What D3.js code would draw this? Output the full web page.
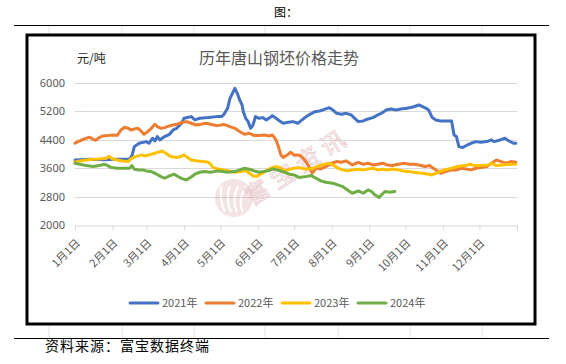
<!DOCTYPE html>
<html>
<head>
<meta charset="utf-8">
<script src="https://cdn.jsdelivr.net/npm/d3@7/dist/d3.min.js"></script>
<style>
  body { margin: 0; background: #fff; }
  svg { display: block; font-family: "Noto Sans CJK SC", "Noto Sans", sans-serif; }
</style>
</head>
<body>
<script>
// chart data (month-day, 元/吨)
const monthLabels = ["1月1日","2月1日","3月1日","4月1日","5月1日","6月1日","7月1日","8月1日","9月1日","10月1日","11月1日","12月1日"];
const yTicks = [2000, 2800, 3600, 4400, 5200, 6000];
const seriesNames = ["2021年","2022年","2023年","2024年"];
const seriesColors = ["#4472C4","#ED7D31","#FFC000","#70AD47"];

const s2021 = [["01-01",3833],["01-13",3850],["01-24",3840],["02-04",3850],["02-15",3860],["02-17",3950],["02-19",4208],["02-23",4302],["03-01",4349],["03-03",4302],["03-06",4443],["03-08",4368],["03-10",4490],["03-12",4396],["03-16",4490],["03-20",4555],["03-23",4677],["03-26",4724],["03-30",4865],["04-01",5006],["04-07",5053],["04-10",4959],["04-14",5006],["04-21",5025],["04-28",5053],["05-02",5053],["05-04",5118],["05-07",5287],["05-09",5568],["05-11",5709],["05-13",5850],["05-15",5709],["05-17",5522],["05-19",5381],["05-20",5193],["05-22",5006],["05-24",4912],["05-26",4724],["05-28",4818],["05-30",5053],["06-02",5006],["06-05",5025],["06-08",4959],["06-11",5025],["06-13",5081],["06-16",5006],["06-19",4930],["06-22",4865],["06-26",4893],["06-30",4912],["07-04",4865],["07-09",5006],["07-14",5118],["07-18",5193],["07-22",5212],["07-26",5259],["07-30",5306],["08-02",5240],["08-05",5146],["08-09",5118],["08-13",5146],["08-17",5100],["08-20",5006],["08-23",4912],["08-27",4930],["08-31",4987],["09-04",5025],["09-08",5100],["09-11",5146],["09-15",5240],["09-19",5268],["09-23",5240],["09-27",5268],["10-02",5287],["10-07",5325],["10-12",5381],["10-15",5334],["10-18",5287],["10-20",5240],["10-23",5025],["10-26",4959],["10-30",4930],["11-08",4930],["11-10",4537],["11-12",4490],["11-14",4208],["11-17",4180],["11-21",4255],["11-24",4302],["11-28",4349],["12-02",4330],["12-07",4349],["12-11",4396],["12-13",4349],["12-18",4396],["12-22",4443],["12-24",4396],["12-29",4302],["12-31",4302]];

const s2022 = [["01-01",4302],["01-03",4340],["01-06",4387],["01-10",4440],["01-13",4471],["01-16",4415],["01-18",4387],["01-21",4462],["01-24",4509],["01-28",4518],["02-01",4537],["02-05",4527],["02-08",4677],["02-11",4752],["02-14",4724],["02-16",4677],["02-19",4705],["02-22",4724],["02-25",4630],["02-27",4555],["03-02",4630],["03-05",4724],["03-08",4837],["03-10",4771],["03-13",4724],["03-16",4743],["03-20",4790],["03-23",4818],["03-26",4837],["03-30",4884],["04-03",4912],["04-07",4865],["04-11",4818],["04-15",4837],["04-19",4865],["04-23",4837],["04-28",4799],["05-02",4818],["05-04",4837],["05-09",4771],["05-13",4724],["05-17",4630],["05-21",4555],["05-25",4584],["05-29",4518],["06-02",4518],["06-06",4537],["06-11",4509],["06-13",4537],["06-16",4396],["06-18",4208],["06-20",3974],["06-22",3899],["06-26",3993],["06-28",4049],["07-01",3974],["07-05",3974],["07-08",3899],["07-11",3767],["07-13",3646],["07-16",3458],["07-19",3599],["07-23",3580],["07-27",3646],["08-01",3739],["08-05",3786],["08-09",3767],["08-13",3805],["08-16",3739],["08-18",3692],["08-23",3767],["08-27",3711],["08-31",3739],["09-04",3692],["09-08",3711],["09-12",3739],["09-16",3692],["09-20",3674],["09-25",3711],["09-30",3739],["10-04",3711],["10-08",3711],["10-12",3692],["10-17",3646],["10-21",3674],["10-23",3618],["10-28",3505],["10-30",3458],["11-03",3505],["11-08",3552],["11-12",3552],["11-16",3599],["11-20",3580],["11-24",3552],["11-28",3599],["12-02",3618],["12-07",3646],["12-11",3739],["12-15",3833],["12-19",3786],["12-23",3739],["12-27",3786],["12-31",3767]];

const s2023 = [["01-01",3767],["01-05",3805],["01-10",3833],["01-16",3852],["01-21",3861],["01-27",3880],["01-29",3936],["02-01",3861],["02-05",3833],["02-09",3805],["02-14",3786],["02-16",3861],["02-20",3927],["02-25",3974],["02-27",3946],["03-03",3974],["03-08",4021],["03-12",4068],["03-14",4087],["03-17",4021],["03-21",3927],["03-26",3899],["03-30",3936],["04-01",3974],["04-04",3899],["04-07",3833],["04-12",3805],["04-17",3786],["04-21",3767],["04-23",3711],["04-25",3617],["04-29",3580],["05-04",3552],["05-10",3505],["05-14",3486],["05-18",3505],["05-22",3533],["05-25",3458],["05-28",3383],["05-31",3364],["06-02",3411],["06-06",3486],["06-09",3552],["06-12",3599],["06-16",3646],["06-20",3599],["06-23",3524],["06-27",3571],["07-01",3599],["07-05",3618],["07-09",3580],["07-14",3580],["07-18",3618],["07-22",3674],["07-26",3711],["07-30",3739],["08-03",3674],["08-06",3599],["08-10",3552],["08-14",3524],["08-18",3552],["08-23",3571],["08-27",3552],["08-31",3580],["09-04",3599],["09-08",3552],["09-12",3571],["09-16",3552],["09-20",3580],["09-25",3552],["09-29",3524],["10-03",3505],["10-08",3486],["10-12",3467],["10-15",3458],["10-19",3439],["10-23",3411],["10-28",3486],["11-02",3552],["11-08",3599],["11-13",3646],["11-19",3674],["11-23",3711],["11-27",3674],["12-02",3674],["12-08",3692],["12-11",3739],["12-15",3674],["12-20",3692],["12-26",3711],["12-31",3711]];

const s2024 = [["01-01",3739],["01-05",3711],["01-10",3674],["01-16",3646],["01-21",3674],["01-25",3711],["01-28",3674],["01-31",3618],["02-05",3599],["02-11",3599],["02-15",3599],["02-17",3674],["02-19",3571],["02-23",3552],["02-26",3552],["03-01",3524],["03-05",3505],["03-09",3439],["03-13",3364],["03-16",3317],["03-20",3383],["03-24",3430],["03-27",3364],["03-31",3298],["04-03",3270],["04-06",3330],["04-10",3430],["04-14",3486],["04-18",3505],["04-23",3486],["04-29",3524],["05-03",3505],["05-07",3486],["05-13",3505],["05-17",3552],["05-21",3599],["05-25",3571],["05-29",3524],["06-02",3486],["06-06",3505],["06-11",3543],["06-13",3580],["06-17",3552],["06-23",3486],["06-27",3430],["07-01",3411],["07-05",3340],["07-11",3364],["07-15",3392],["07-19",3317],["07-23",3242],["07-27",3205],["08-02",3177],["08-06",3130],["08-10",3083],["08-14",2989],["08-18",2895],["08-23",2961],["08-27",2895],["08-31",2989],["09-03",2942],["09-05",2867],["09-09",2773],["09-11",2848],["09-14",2942],["09-18",2923],["09-22",2942]];

const allSeries = [s2021, s2022, s2023, s2024];

const W = 566, H = 364;
const parse = d3.timeParse("%Y-%m-%d");
const toDate = md => parse("2021-" + md);

const svg = d3.select("body").append("svg")
    .attr("width", W)
    .attr("height", H);

// faint spreadsheet cell lines outside the chart box
const cellX = [49, 122, 194, 265, 338, 410, 482];
cellX.forEach(x => {
  svg.append("line").attr("x1", x).attr("x2", x).attr("y1", 26).attr("y2", 35)
     .attr("stroke", "#e3e3e3");
  svg.append("line").attr("x1", x).attr("x2", x).attr("y1", 324).attr("y2", 337)
     .attr("stroke", "#e3e3e3");
});

// page header / footer
svg.append("text").attr("x", 274).attr("y", 17)
   .attr("font-size", 12).attr("fill", "#000").text("图：");
svg.append("line").attr("x1", 14).attr("x2", 549).attr("y1", 25.5).attr("y2", 25.5)
   .attr("stroke", "#000").attr("stroke-width", 1.2);
svg.append("line").attr("x1", 14).attr("x2", 549).attr("y1", 338.5).attr("y2", 338.5)
   .attr("stroke", "#000").attr("stroke-width", 1.2);
svg.append("text").attr("x", 45).attr("y", 351)
   .attr("font-size", 14).attr("letter-spacing", 1).attr("fill", "#000")
   .text("资料来源：富宝数据终端");

// chart frame
svg.append("rect").attr("x", 27).attr("y", 35).attr("width", 508).attr("height", 289)
   .attr("fill", "#fff").attr("stroke", "#000").attr("stroke-width", 3);

// scales
const x = d3.scaleTime()
    .domain([toDate("01-01"), parse("2022-01-01")])
    .range([75, 517]);
const y = d3.scaleLinear()
    .domain([2000, 6000])
    .range([225, 83]);

// gridlines
svg.append("g").selectAll("line").data(yTicks.slice(1)).join("line")
   .attr("x1", 75).attr("x2", 517)
   .attr("y1", d => Math.round(y(d)) + 0.5).attr("y2", d => Math.round(y(d)) + 0.5)
   .attr("stroke", "#d9d9d9");

// y axis labels
const yAxis = d3.axisLeft(y).tickValues(yTicks).tickFormat(d3.format("d"))
    .tickSize(0).tickPadding(10);
const gy = svg.append("g").attr("transform", "translate(75,0)").call(yAxis);
gy.select(".domain").remove();
gy.selectAll("text").attr("font-size", 11).attr("fill", "#595959")
  .attr("font-family", "'Noto Sans', sans-serif");

// x axis
const monthTicks = d3.timeMonth.range(toDate("01-01"), parse("2022-01-02"));
const xAxis = d3.axisBottom(x).tickValues(monthTicks).tickSize(5).tickFormat("");
const gx = svg.append("g").attr("transform", "translate(0,225.5)").call(xAxis);
gx.select(".domain").attr("stroke", "#d9d9d9");
gx.selectAll(".tick line").attr("stroke", "#d9d9d9");

svg.append("g").selectAll("text").data(monthLabels).join("text")
   .attr("transform", (d, i) => `translate(${x(monthTicks[i]) + 3},241) rotate(-45)`)
   .attr("text-anchor", "end")
   .attr("dy", "0.35em")
   .attr("font-size", 11)
   .attr("fill", "#595959")
   .text(d => d);

// watermark
const wm = svg.append("g").attr("opacity", 0.13);
wm.append("circle").attr("cx", 234).attr("cy", 198).attr("r", 19).attr("fill", "#b03040");
[-9, -3, 3, 9].forEach(o => {
  wm.append("path")
    .attr("d", `M${234 + o},${212} q${-6},-12 ${o * 0.4},-26`)
    .attr("stroke", "#fff").attr("stroke-width", 2.2).attr("fill", "none");
});
svg.append("text")
   .attr("transform", "translate(252,206) rotate(-33)")
   .attr("font-size", 24).attr("letter-spacing", 6)
   .attr("fill", "none").attr("stroke", "#e6c4c8").attr("stroke-width", 0.7)
   .text("富宝资讯");

// series lines
const line = d3.line()
    .x(d => x(toDate(d[0])))
    .y(d => y(d[1]));

svg.append("g").selectAll("path").data(allSeries).join("path")
   .attr("d", line)
   .attr("fill", "none")
   .attr("stroke", (d, i) => seriesColors[i])
   .attr("stroke-width", 3)
   .attr("stroke-linejoin", "round")
   .attr("stroke-linecap", "round");

// titles
svg.append("text").attr("x", 279).attr("y", 64)
   .attr("text-anchor", "middle").attr("font-size", 16).attr("fill", "#595959")
   .text("历年唐山钢坯价格走势");
svg.append("text").attr("x", 77).attr("y", 63)
   .attr("font-size", 12).attr("fill", "#222")
   .text("元/吨");

// legend
const legend = svg.append("g").selectAll("g").data(seriesNames).join("g")
   .attr("transform", (d, i) => `translate(${130 + i * 76},303)`);
legend.append("line").attr("x1", 0).attr("x2", 28).attr("y1", 0).attr("y2", 0)
   .attr("stroke", (d, i) => seriesColors[i]).attr("stroke-width", 3)
   .attr("stroke-linecap", "round");
legend.append("text").attr("x", 32).attr("dy", "0.36em")
   .attr("font-size", 11).attr("fill", "#595959")
   .text(d => d);
</script>
</body>
</html>
